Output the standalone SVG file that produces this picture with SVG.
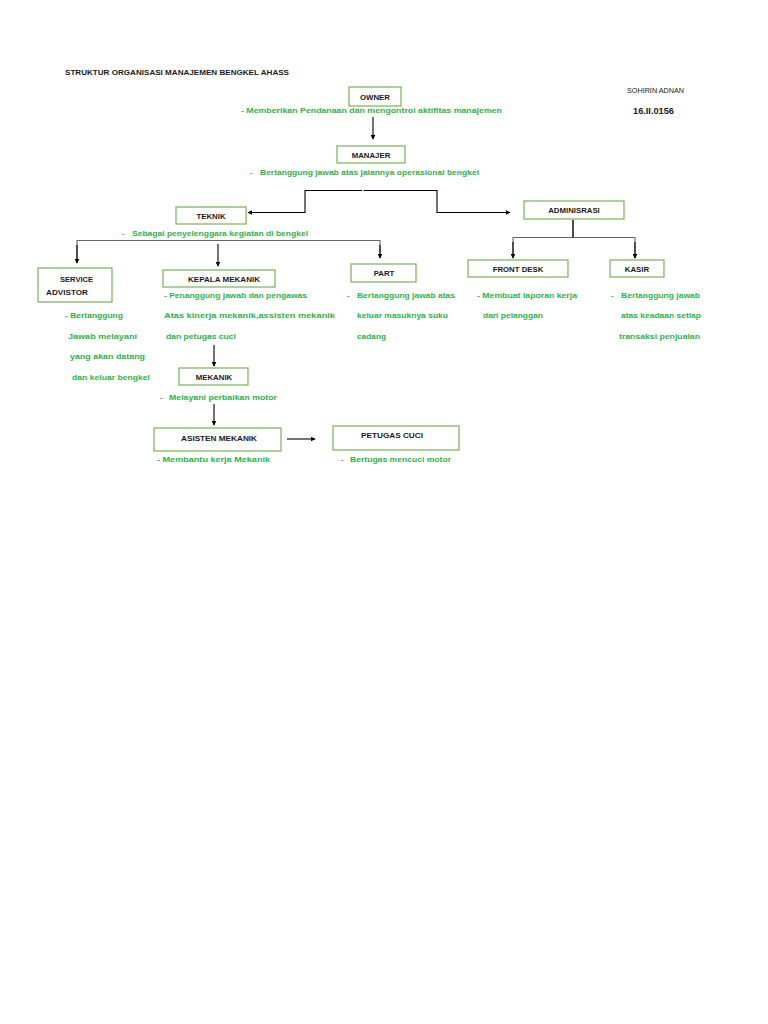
<svg xmlns="http://www.w3.org/2000/svg" width="768" height="1024" viewBox="0 0 768 1024">
<defs>
<style>
.box{fill:#fff;stroke:#77b255;stroke-width:1.2}
.lbl{font-family:"Liberation Sans",Arial,sans-serif;font-size:7.8px;font-weight:bold;fill:#1a1a1a}
.g{font-family:"Liberation Sans",Arial,sans-serif;font-size:7.8px;font-weight:bold;fill:#2db34a}
.ln{fill:none;stroke:#000;stroke-width:1.1}
.gl{fill:none;stroke:#666;stroke-width:1.1}
</style>
<marker id="ah" viewBox="0 0 8 8" refX="7" refY="4" markerWidth="5" markerHeight="5" orient="auto" markerUnits="userSpaceOnUse"><path d="M0,0 L8,4 L0,8 z" fill="#000"/></marker>
</defs>
<rect width="768" height="1024" fill="#fff"/>
<text class="lbl" x="65" y="75" textLength="224" lengthAdjust="spacingAndGlyphs">STRUKTUR ORGANISASI MANAJEMEN BENGKEL AHASS</text>
<text x="627" y="93" font-family="Liberation Sans,Arial,sans-serif" font-size="6.5" fill="#1a1a1a" textLength="57" lengthAdjust="spacingAndGlyphs">SOHIRIN ADNAN</text>
<text class="lbl" x="633" y="114" style="font-size:8.5px" textLength="41" lengthAdjust="spacingAndGlyphs">16.II.0156</text>

<g id="connectors">
<line class="ln" x1="373" y1="117" x2="373" y2="139" marker-end="url(#ah)"/>
<path class="ln" d="M362,190.5 H305 V212.5 H248" marker-end="url(#ah)"/>
<path class="ln" d="M363.5,190.5 H437 V212.5 H510" marker-end="url(#ah)"/>
<path class="gl" d="M77,262 V240.5 H380 V258"/>
<line class="ln" x1="77" y1="245" x2="77" y2="263" marker-end="url(#ah)"/>
<line class="ln" x1="380" y1="245" x2="380" y2="258" marker-end="url(#ah)"/>
<line class="ln" x1="218" y1="244" x2="218" y2="266" marker-end="url(#ah)"/>
<path class="gl" d="M573,220 V237.5 H513 V258 M573,237.5 H635 V258"/>
<line class="ln" x1="573" y1="220" x2="573" y2="237.5"/>
<line class="ln" x1="513" y1="242" x2="513" y2="258" marker-end="url(#ah)"/>
<line class="ln" x1="635" y1="242" x2="635" y2="258" marker-end="url(#ah)"/>
<line class="ln" x1="214" y1="345" x2="214" y2="366" marker-end="url(#ah)"/>
<line class="ln" x1="214" y1="404" x2="214" y2="425" marker-end="url(#ah)"/>
<line class="ln" x1="287" y1="439" x2="315" y2="439" marker-end="url(#ah)"/>
</g>

<g id="owner">
<rect class="box" x="349" y="87" width="52" height="19"/>
<text class="lbl" x="375" y="100" text-anchor="middle">OWNER</text>
<text class="g" x="241" y="113" textLength="261" lengthAdjust="spacingAndGlyphs">- Memberikan Pendanaan dan mengontrol aktifitas manajemen</text>
</g>

<g id="manajer">
<rect class="box" x="337" y="146" width="68" height="17"/>
<text class="lbl" x="371" y="158" text-anchor="middle">MANAJER</text>
<text class="g" x="250" y="175">-</text>
<text class="g" x="260" y="175" textLength="219" lengthAdjust="spacingAndGlyphs">Bertanggung jawab atas jalannya operasional bengkel</text>
</g>

<g id="teknik">
<rect class="box" x="176" y="207" width="70" height="17"/>
<text class="lbl" x="211" y="219" text-anchor="middle">TEKNIK</text>
<text class="g" x="122" y="236">-</text>
<text class="g" x="132" y="236" textLength="176" lengthAdjust="spacingAndGlyphs">Sebagai penyelenggara kegiatan di bengkel</text>
</g>

<g id="adminisrasi">
<rect class="box" x="524" y="201" width="100" height="18"/>
<text class="lbl" x="574" y="213" text-anchor="middle">ADMINISRASI</text>
</g>

<g id="service-advistor">
<rect class="box" x="38" y="268" width="74" height="34"/>
<text class="lbl" x="60" y="282" textLength="33" lengthAdjust="spacingAndGlyphs">SERVICE</text>
<text class="lbl" x="46" y="295" textLength="42" lengthAdjust="spacingAndGlyphs">ADVISTOR</text>
<text class="g" x="65" y="318" textLength="58" lengthAdjust="spacingAndGlyphs">- Bertanggung</text>
<text class="g" x="68" y="339" textLength="69" lengthAdjust="spacingAndGlyphs">Jawab melayani</text>
<text class="g" x="70" y="359" textLength="75" lengthAdjust="spacingAndGlyphs">yang akan datang</text>
<text class="g" x="72" y="380" textLength="78" lengthAdjust="spacingAndGlyphs">dan keluar bengkel</text>
</g>

<g id="kepala-mekanik">
<rect class="box" x="163" y="270" width="112" height="17"/>
<text class="lbl" x="188" y="282" textLength="72" lengthAdjust="spacingAndGlyphs">KEPALA MEKANIK</text>
<text class="g" x="164" y="298" textLength="143" lengthAdjust="spacingAndGlyphs">- Penanggung jawab dan pengawas</text>
<text class="g" x="164" y="318" textLength="171" lengthAdjust="spacingAndGlyphs">Atas kinerja mekanik,assisten mekanik</text>
<text class="g" x="166" y="339" textLength="70" lengthAdjust="spacingAndGlyphs">dan petugas cuci</text>
</g>

<g id="part">
<rect class="box" x="351" y="264" width="65" height="18"/>
<text class="lbl" x="384" y="276" text-anchor="middle">PART</text>
<text class="g" x="347" y="298">-</text>
<text class="g" x="357" y="298" textLength="98" lengthAdjust="spacingAndGlyphs">Bertanggung jawab atas</text>
<text class="g" x="357" y="318" textLength="91" lengthAdjust="spacingAndGlyphs">keluar masuknya suku</text>
<text class="g" x="357" y="339" textLength="29" lengthAdjust="spacingAndGlyphs">cadang</text>
</g>

<g id="front-desk">
<rect class="box" x="468" y="260" width="100" height="17"/>
<text class="lbl" x="518" y="272" text-anchor="middle">FRONT DESK</text>
<text class="g" x="477" y="298" textLength="100" lengthAdjust="spacingAndGlyphs">- Membuat laporan kerja</text>
<text class="g" x="483" y="318" textLength="60" lengthAdjust="spacingAndGlyphs">dari pelanggan</text>
</g>

<g id="kasir">
<rect class="box" x="610" y="260" width="54" height="17"/>
<text class="lbl" x="637" y="272" text-anchor="middle">KASIR</text>
<text class="g" x="611" y="298">-</text>
<text class="g" x="621" y="298" textLength="79" lengthAdjust="spacingAndGlyphs">Bertanggung jawab</text>
<text class="g" x="621" y="318" textLength="80" lengthAdjust="spacingAndGlyphs">atas keadaan setiap</text>
<text class="g" x="619" y="339" textLength="81" lengthAdjust="spacingAndGlyphs">transaksi  penjualan</text>
</g>

<g id="mekanik">
<rect class="box" x="179" y="368" width="69" height="17"/>
<text class="lbl" x="214" y="380" text-anchor="middle">MEKANIK</text>
<text class="g" x="160" y="400">-</text>
<text class="g" x="169" y="400" textLength="108" lengthAdjust="spacingAndGlyphs">Melayani perbaikan motor</text>
</g>

<g id="asisten-mekanik">
<rect class="box" x="154" y="428" width="127" height="23"/>
<text class="lbl" x="181" y="441" textLength="76" lengthAdjust="spacingAndGlyphs">ASISTEN MEKANIK</text>
<text class="g" x="157" y="462" textLength="113" lengthAdjust="spacingAndGlyphs">- Membantu kerja Mekanik</text>
</g>

<g id="petugas-cuci">
<rect class="box" x="333" y="426" width="126" height="24"/>
<text class="lbl" x="361" y="438" textLength="62" lengthAdjust="spacingAndGlyphs">PETUGAS CUCI</text>
<text class="g" x="341" y="462">-</text>
<text class="g" x="350" y="462" textLength="101" lengthAdjust="spacingAndGlyphs">Bertugas mencuci motor</text>
</g>
</svg>
